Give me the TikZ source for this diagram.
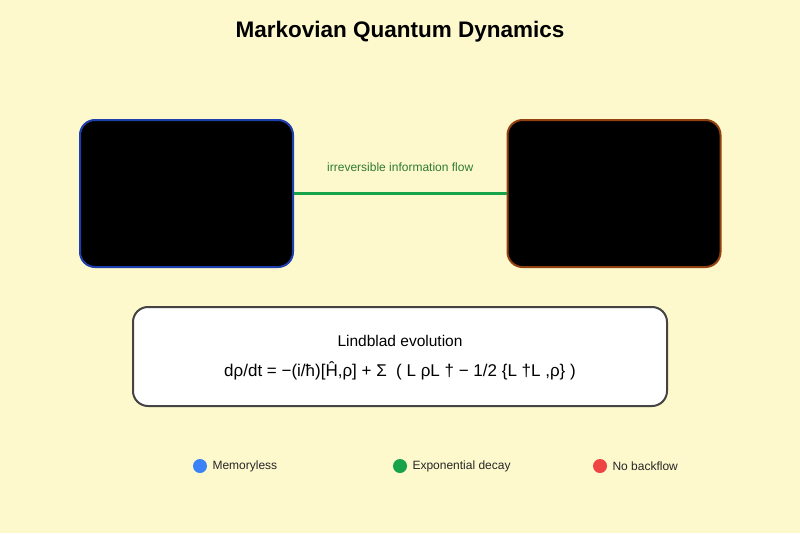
\documentclass[tikz,border=0pt]{standalone}
\usepackage{fontspec}
\setmainfont{Liberation Sans}
\usepackage{tikz}
\usetikzlibrary{positioning, calc}
\definecolor{bgcream}{HTML}{FEF8CD}
\definecolor{lblue}{HTML}{1E40AF}
\definecolor{rbrown}{HTML}{92400E}
\definecolor{flowgreen}{HTML}{16A34A}
\definecolor{labelgreen}{HTML}{2E7D32}
\definecolor{dotblue}{HTML}{3B82F6}
\definecolor{dotred}{HTML}{EF4444}
\definecolor{framegray}{HTML}{444444}

\tikzset{
  statebox/.style={draw, line width=2pt, fill=black, rounded corners=15pt,
    minimum width=213pt, minimum height=147pt, inner sep=0pt},
  eqbox/.style={draw=framegray, line width=2pt, fill=white, rounded corners=15pt,
    minimum width=534pt, minimum height=99pt, inner sep=0pt},
  legdot/.style={circle, inner sep=0pt, minimum size=14pt},
  legtext/.style={anchor=west, font=\fontsize{12}{14}\selectfont, text=black!85}
}

\begin{document}
\begin{tikzpicture}[x=1pt,y=-1pt]
\fill[bgcream] (0,0) rectangle (800,533);
\useasboundingbox (0,0) rectangle (800,533);

% title
\node[font=\fontsize{22.5}{26}\selectfont\bfseries] (title) at (400,32) {Markovian Quantum Dynamics};

% system and environment boxes
\node[statebox, draw=lblue] (sys) at (186.5,193.5) {};
\node[statebox, draw=rbrown] (env) at (614,193.5) {};
\draw[flowgreen, line width=3pt] (sys.east) -- (env.west)
  node[midway, above=17pt, text=labelgreen, font=\fontsize{12}{14}\selectfont] (flowlbl) {irreversible information flow};

% master equation
\node[eqbox] (eq) at (400,356.5) {};
\node[font=\fontsize{15.5}{19}\selectfont] (eqtitle) at (400,341) {Lindblad evolution};
\node[font=\fontsize{17}{20}\selectfont] (eqbody) at (400,371) {dρ/dt = −(i/ħ)[Ĥ,ρ] + Σ \ ( L ρL † − 1/2 \{L †L ,ρ\} )};

% legend
\foreach \px/\col/\txt [count=\i] in {200/dotblue/Memoryless, 400/flowgreen/Exponential decay, 600/dotred/No backflow}{
  \node[legdot, fill=\col] (dot\i) at (\px,466) {};
  \node[legtext] (leg\i) at (\px+9,466) {\txt};
}
\end{tikzpicture}
\end{document}
